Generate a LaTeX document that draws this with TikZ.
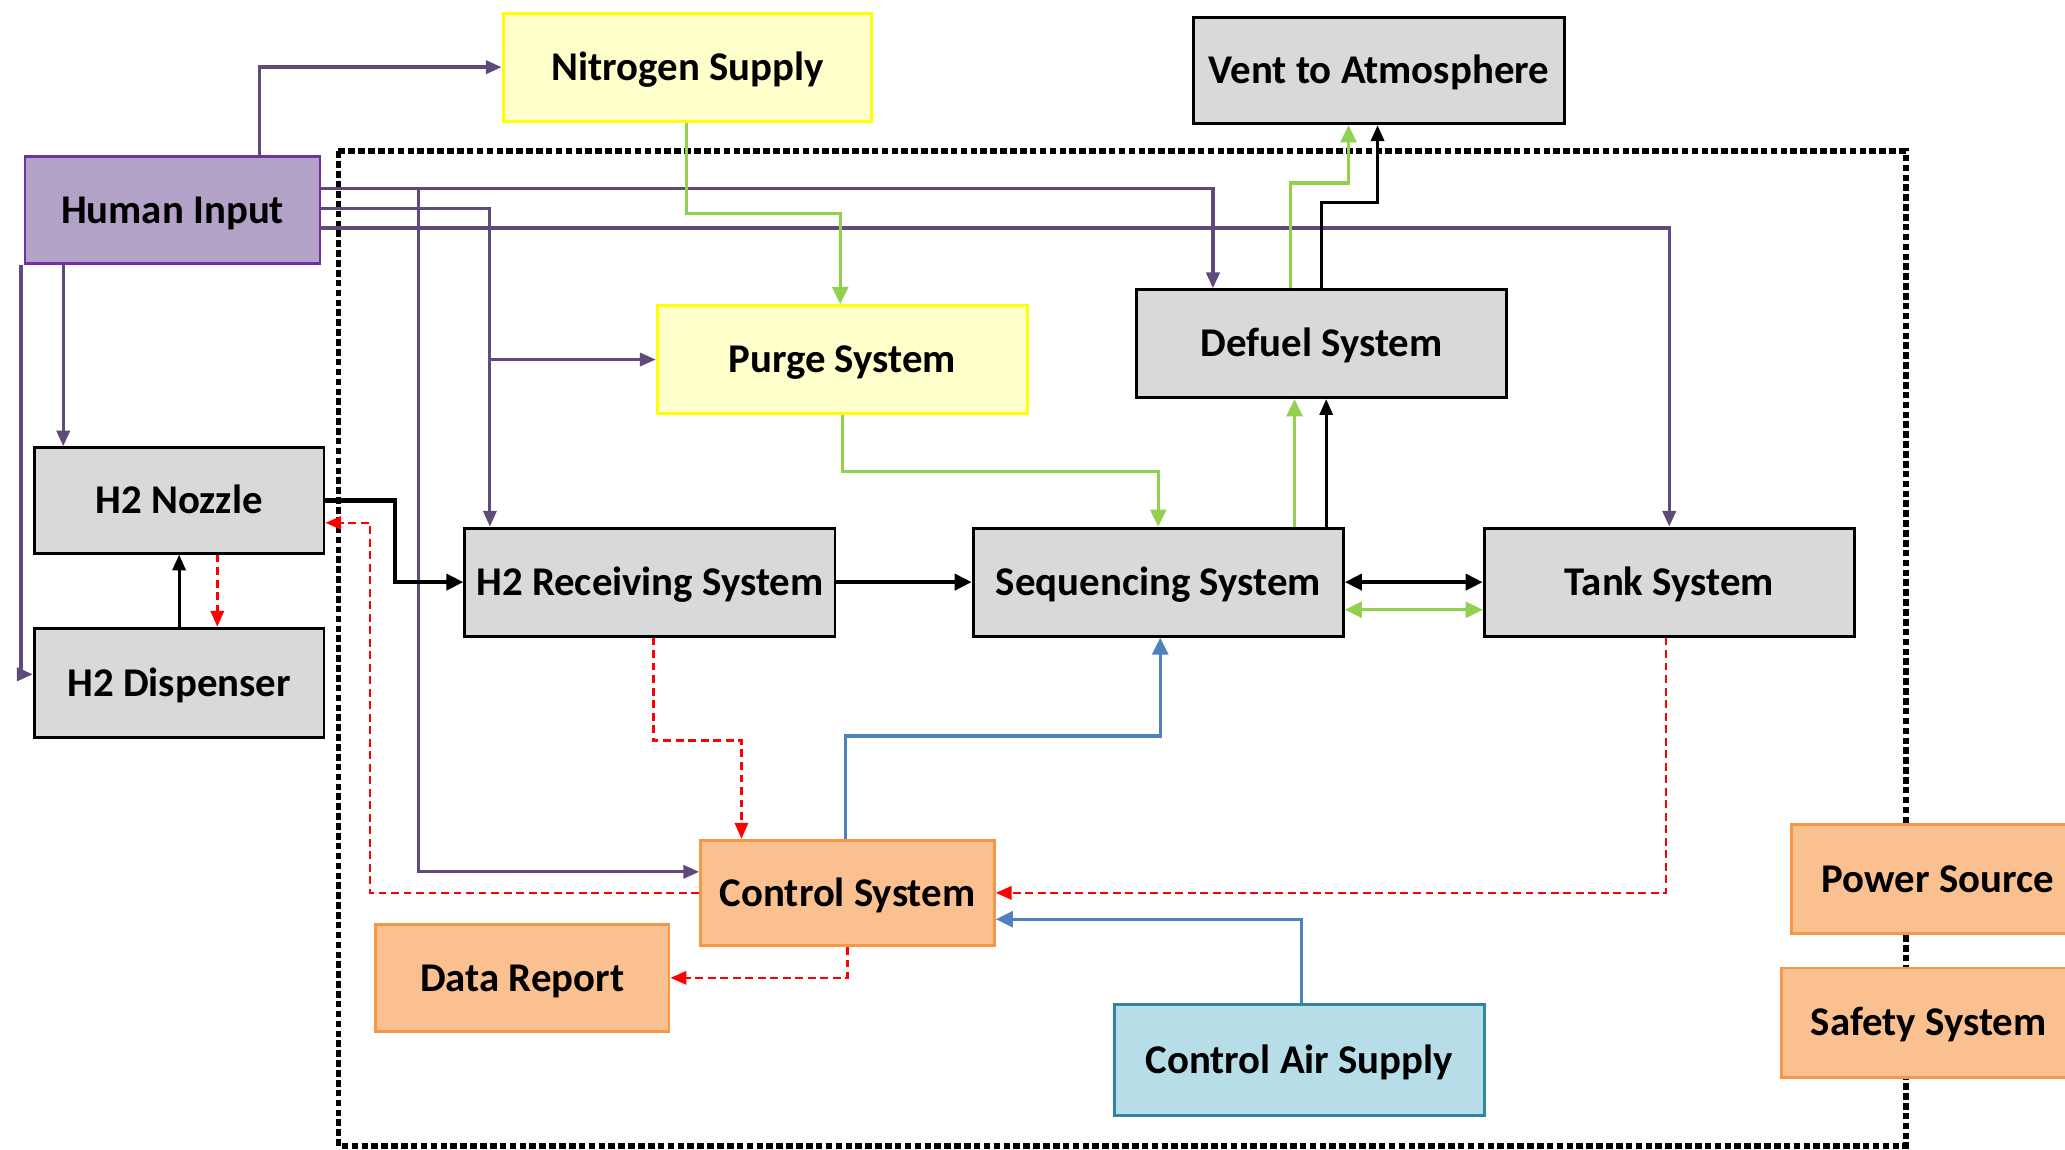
\documentclass[tikz,border=0pt]{standalone}
\usepackage{fontspec}
\setmainfont{Carlito}
\usetikzlibrary{arrows.meta}
\definecolor{purp}{RGB}{96,74,123}
\definecolor{purpfill}{RGB}{179,162,199}
\definecolor{purpdraw}{RGB}{112,48,160}
\definecolor{grn}{RGB}{146,208,80}
\definecolor{blu}{RGB}{79,129,189}
\definecolor{yelfill}{RGB}{255,255,204}
\definecolor{yeldraw}{RGB}{255,255,0}
\definecolor{grayfill}{RGB}{217,217,217}
\definecolor{orfill}{RGB}{250,192,144}
\definecolor{ordraw}{RGB}{247,150,70}
\definecolor{lbfill}{RGB}{183,222,232}
\definecolor{lbdraw}{RGB}{49,133,156}
\begin{document}
\begin{tikzpicture}[x=1pt,y=-1pt,
  box/.style={draw, line width=2.2pt, inner sep=0pt, align=center,
    text height=24pt, text depth=4pt,
    font=\fontsize{31}{36}\selectfont\bfseries},
  graybox/.style={box, fill=grayfill, draw=black},
  yelbox/.style={box, fill=yelfill, draw=yeldraw},
  orbox/.style={box, fill=orfill, draw=ordraw, minimum width=223pt, minimum height=81pt},
  tip/.style={-{Triangle[length=13pt,width=12pt]}},
  smalltip/.style={-{Triangle[length=12pt,width=10pt]}},
  pline/.style={draw=purp, line width=2.6pt, smalltip},
  bthick/.style={draw=black, line width=3.4pt, tip},
  bthin/.style={draw=black, line width=2.2pt, smalltip},
  gline/.style={draw=grn, line width=2.5pt, tip},
  bline/.style={draw=blu, line width=2.5pt, tip},
  rline/.style={draw=red, line width=2pt, dash pattern=on 6pt off 3.5pt, smalltip}
]
\useasboundingbox (0,0) rectangle (1568,873);
\fill[white] (0,0) rectangle (1568,873);

% dotted system boundary
\draw[line width=4.5pt, dash pattern=on 5pt off 2.5pt] (257,115) rectangle (1447,870);

% nodes
\node[yelbox, minimum width=280pt, minimum height=82pt] (nitro) at (522,51) {Nitrogen Supply};
\node[graybox, minimum width=282pt, minimum height=81pt] (vent) at (1047,53.5) {Vent to Atmosphere};
\node[box, fill=purpfill, draw=purpdraw, minimum width=224pt, minimum height=81pt] (human) at (131,159.5) {Human Input};
\node[yelbox, minimum width=281pt, minimum height=82pt] (purge) at (639.5,273) {Purge System};
\node[graybox, minimum width=281pt, minimum height=82pt] (defuel) at (1003.5,261) {Defuel System};
\node[graybox, minimum width=220pt, minimum height=80pt] (nozzle) at (136,380) {H2 Nozzle};
\node[graybox, minimum width=220pt, minimum height=83pt] (disp) at (136,518.5) {H2 Dispenser};
\node[graybox, minimum width=281pt, minimum height=82pt] (recv) at (493.5,442) {H2 Receiving System};
\node[graybox, minimum width=281pt, minimum height=82pt] (seq) at (879.5,442) {Sequencing System};
\node[graybox, minimum width=281pt, minimum height=82pt] (tank) at (1267.5,442) {Tank System};
\node[orbox, minimum height=80pt] (ctrl) at (643.5,678) {Control System};
\node[orbox] (data) at (396.5,742.5) {Data Report};
\node[box, fill=lbfill, draw=lbdraw, minimum width=281pt, minimum height=84pt] (air) at (986.5,805) {Control Air Supply};
\node[orbox, minimum height=83pt] (power) at (1471.5,667.5) {Power Source};
\node[orbox, minimum height=83pt] (safety) at (1464.5,776.5) {Safety System};

% junction coordinates
\coordinate (j1) at (318,143);
\coordinate (j2) at (372,273);

% purple (human input)
\draw[pline] ([xshift=66pt]human.north) |- (nitro.west);
\draw[pline] ([yshift=16.5pt]human.east) -| ([xshift=-82.5pt]defuel.north);
\draw[pline, line width=2.2pt] (j1) |- ([yshift=16pt]ctrl.west);
\draw[pline, line width=2.2pt] ([yshift=1.5pt]human.east) -| ([xshift=-121.5pt]recv.north);
\draw[pline, line width=2.2pt] (j2) -- (purge.west);
\draw[pline] ([yshift=-13.5pt]human.east) -| (tank.north);
\draw[pline] ([xshift=-83pt]human.south) -- ([xshift=-88pt]nozzle.north);
\draw[pline] ([xshift=-2pt]human.south west) |- ([yshift=6.5pt]disp.west);

% black flows
\draw[bthick] (nozzle.east) -- ++(53,0) |- (recv.west);
\draw[bthick] (recv.east) -- (seq.west);
\draw[bthick, {Triangle[length=13pt,width=12pt]}-{Triangle[length=13pt,width=12pt]}] (seq.east) -- (tank.west);
\draw[bthin] (disp.north) -- (nozzle.south);
\draw[bthin] ([xshift=127.5pt]seq.north) -- ([xshift=3.5pt]defuel.south);
\draw[bthin] (defuel.north) -- ++(0,-65) -| ([xshift=-1pt]vent.south);

% green flows
\draw[gline, {Triangle[length=13pt,width=12pt]}-{Triangle[length=13pt,width=12pt]}] ([yshift=-21pt]seq.east) -- ([yshift=-21pt]tank.west);
\draw[gline] ([xshift=103.5pt]seq.north) -- ([xshift=-20.5pt]defuel.south);
\draw[gline] ([xshift=-23.5pt]defuel.north) -- ++(0,-80) -| ([xshift=-23pt]vent.south);
\draw[gline] ([xshift=-1pt]nitro.south) -- ++(0,69) -| ([xshift=-1.5pt]purge.north);
\draw[gline] (purge.south) -- ++(0,43) -| (seq.north);

% blue flows
\draw[bline] ([xshift=-1.5pt]ctrl.north) -- ++(0,-78) -| ([xshift=1.5pt]seq.south);
\draw[bline] ([xshift=1.5pt]air.north) |- ([yshift=-20pt]ctrl.east);

% red dashed signals
\draw[rline] ([xshift=29pt]nozzle.south) -- ([xshift=29pt]disp.north);
\draw[rline] ([xshift=2.5pt]recv.south) -- ++(0,78) -| ([xshift=-80.5pt]ctrl.north);
\draw[rline] ([xshift=-2.5pt]tank.south) |- (ctrl.east);
\draw[rline] (ctrl.west) -- ++(-250,0) |- ([yshift=-17pt]nozzle.east);
\draw[rline] (ctrl.south) |- (data.east);
\end{tikzpicture}
\end{document}
